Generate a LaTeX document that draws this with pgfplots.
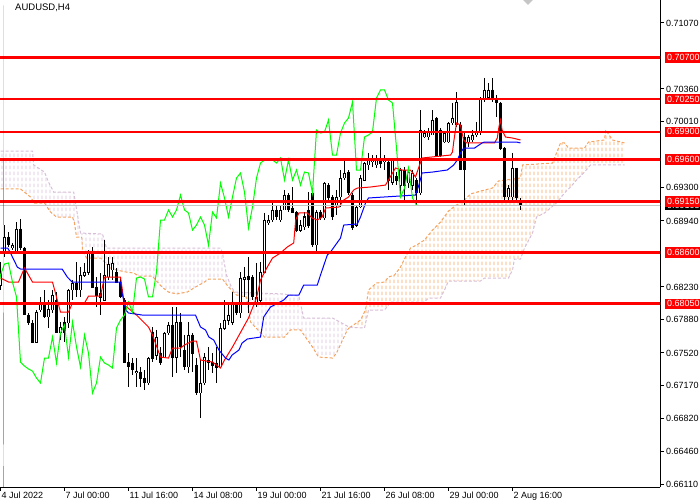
\documentclass[border=0pt]{standalone}
\usepackage{fontspec}
\setmainfont{Liberation Sans}
\usepackage{pgfplots}
\usepackage{pgfplotstable}
\pgfplotsset{compat=1.18}
\usepgfplotslibrary{fillbetween}
\usetikzlibrary{patterns}
\definecolor{sandy}{RGB}{244,164,96}
\definecolor{thist}{RGB}{216,191,216}
\definecolor{limeg}{RGB}{0,255,0}
\pgfdeclarepatternformonly{mtdash}{\pgfpoint{0bp}{0bp}}{\pgfpoint{4bp}{6bp}}{\pgfpoint{4bp}{6bp}}{%
 \pgfsetlinewidth{1bp}%
 \pgfpathmoveto{\pgfpoint{2.5bp}{1bp}}%
 \pgfpathlineto{\pgfpoint{2.5bp}{5bp}}%
 \pgfusepath{stroke}}
\setlength\fboxsep{2bp}
\newcommand\rbox[1]{\colorbox{red}{\textcolor{white}{#1}}}
\newcommand\bbox[1]{\colorbox{black}{\textcolor{white}{#1}}}
\pgfplotstableread{
i o h l c
0 0.68250 0.68498 0.68197 0.68380
1 0.68595 0.68896 0.68552 0.68767
2 0.68767 0.68820 0.68660 0.68681
3 0.68649 0.68703 0.68627 0.68681
4 0.68605 0.68928 0.68595 0.68853
5 0.68853 0.68961 0.68627 0.68649
6 0.68649 0.68660 0.67928 0.67928
7 0.67928 0.67950 0.67820 0.67842
8 0.67842 0.67874 0.67627 0.67637
9 0.67637 0.67982 0.67627 0.67960
10 0.67982 0.68122 0.67960 0.68057
11 0.68057 0.68197 0.67896 0.67907
12 0.67907 0.68089 0.67788 0.67992
13 0.67982 0.68197 0.67950 0.68143
14 0.68089 0.68175 0.67735 0.67735
15 0.67735 0.67852 0.67659 0.67799
16 0.67852 0.67907 0.67637 0.67735
17 0.67842 0.68207 0.67788 0.68197
18 0.68197 0.68304 0.68089 0.68272
19 0.68272 0.68498 0.68122 0.68197
20 0.68197 0.68445 0.68122 0.68358
21 0.68358 0.68488 0.68337 0.68390
22 0.68390 0.68627 0.68358 0.68595
23 0.68595 0.68660 0.68229 0.68229
24 0.68229 0.68337 0.68014 0.68143
25 0.68165 0.68380 0.67928 0.68111
26 0.68089 0.68735 0.68089 0.68358
27 0.68337 0.68552 0.68304 0.68477
28 0.68412 0.68552 0.68304 0.68488
29 0.68390 0.68434 0.68272 0.68282
30 0.68282 0.68337 0.68111 0.68122
31 0.68089 0.68111 0.67412 0.67422
32 0.67422 0.67519 0.67154 0.67379
33 0.67412 0.67465 0.67282 0.67347
34 0.67304 0.67465 0.67154 0.67325
35 0.67314 0.67369 0.67154 0.67250
36 0.67250 0.67336 0.67121 0.67197
37 0.67197 0.67476 0.67175 0.67465
38 0.67745 0.67799 0.67422 0.67465
39 0.67497 0.67767 0.67444 0.67692
40 0.67519 0.67584 0.67390 0.67412
41 0.67476 0.67745 0.67465 0.67735
42 0.67735 0.67852 0.67713 0.67820
43 0.67820 0.68014 0.67261 0.67476
44 0.67476 0.68014 0.67304 0.67852
45 0.67852 0.67950 0.67476 0.67584
46 0.67551 0.67713 0.67336 0.67369
47 0.67369 0.67852 0.67304 0.67713
48 0.67713 0.67735 0.67314 0.67519
49 0.67390 0.67465 0.67067 0.67089
50 0.67089 0.67444 0.66820 0.67197
51 0.67197 0.67519 0.67175 0.67476
52 0.67444 0.67584 0.67336 0.67412
53 0.67422 0.67519 0.67304 0.67390
54 0.67412 0.67584 0.67197 0.67358
55 0.67369 0.67842 0.67358 0.67788
56 0.67788 0.68089 0.67767 0.67874
57 0.67874 0.68035 0.67820 0.67928
58 0.67852 0.68175 0.67820 0.68067
59 0.68035 0.68067 0.67928 0.67960
60 0.67950 0.68390 0.67896 0.68326
61 0.68315 0.68445 0.68122 0.68337
62 0.68347 0.68552 0.67950 0.68315
63 0.68337 0.68358 0.68089 0.68122
64 0.68057 0.68488 0.68014 0.68122
65 0.68089 0.68498 0.68067 0.68390
66 0.68380 0.69026 0.68380 0.68950
67 0.68918 0.69004 0.68896 0.68950
68 0.68950 0.69133 0.68928 0.69058
69 0.69058 0.69111 0.68950 0.68983
70 0.68950 0.69111 0.68928 0.69058
71 0.69058 0.69273 0.69058 0.69219
72 0.69219 0.69241 0.69036 0.69058
73 0.69079 0.69305 0.69026 0.69026
74 0.69026 0.69047 0.68820 0.68842
75 0.68842 0.68950 0.68820 0.68896
76 0.68875 0.69036 0.68842 0.68983
77 0.69058 0.69251 0.68864 0.68896
78 0.69241 0.69251 0.68660 0.68681
79 0.68681 0.69058 0.68595 0.69036
80 0.69036 0.69058 0.68950 0.68972
81 0.68972 0.69358 0.68950 0.69348
82 0.69326 0.69348 0.69165 0.69187
83 0.69198 0.69219 0.68950 0.68983
84 0.69111 0.69273 0.69004 0.69198
85 0.69198 0.69488 0.69090 0.69402
86 0.69402 0.69596 0.69380 0.69456
87 0.69466 0.69488 0.69219 0.69251
88 0.69219 0.69241 0.68842 0.68864
89 0.68896 0.69111 0.68875 0.69090
90 0.69090 0.69434 0.69079 0.69402
91 0.69380 0.69574 0.69380 0.69563
92 0.69542 0.69671 0.69488 0.69596
93 0.69574 0.69649 0.69521 0.69596
94 0.69542 0.69649 0.69510 0.69596
95 0.69596 0.69843 0.69510 0.69563
96 0.69574 0.69649 0.69488 0.69617
97 0.69574 0.69617 0.69273 0.69380
98 0.69358 0.69617 0.69326 0.69596
99 0.69423 0.69466 0.69326 0.69380
100 0.69326 0.69510 0.69198 0.69488
101 0.69488 0.69521 0.69133 0.69326
102 0.69348 0.69488 0.69294 0.69466
103 0.69326 0.69488 0.69273 0.69456
104 0.69380 0.69402 0.69111 0.69241
105 0.69241 0.70133 0.69219 0.69918
106 0.69843 0.69918 0.69832 0.69886
107 0.69843 0.69940 0.69811 0.69897
108 0.69865 0.70133 0.69865 0.70026
109 0.70047 0.70058 0.69628 0.69649
110 0.69918 0.69940 0.69628 0.69649
111 0.69789 0.69897 0.69779 0.69886
112 0.69789 0.70004 0.69779 0.69994
113 0.69994 0.70209 0.69972 0.70047
114 0.69972 0.70327 0.69951 0.70220
115 0.69972 0.70004 0.69488 0.69488
116 0.69843 0.69897 0.69111 0.69488
117 0.69789 0.69865 0.69736 0.69843
118 0.69811 0.69918 0.69789 0.69865
119 0.69865 0.70004 0.69843 0.69897
120 0.69886 0.70273 0.69865 0.70263
121 0.70241 0.70478 0.70220 0.70349
122 0.70273 0.70424 0.70241 0.70349
123 0.70349 0.70478 0.70220 0.70241
124 0.70263 0.70295 0.70058 0.70209
125 0.70209 0.70220 0.69703 0.69724
126 0.69724 0.69736 0.69165 0.69198
127 0.69198 0.69326 0.69165 0.69294
128 0.69198 0.69671 0.69165 0.69510
129 0.69510 0.69510 0.69165 0.69187
130 0.69144 0.69187 0.69058 0.69109
}\candles
\begin{document}
\begin{tikzpicture}
\begin{axis}[
 set layers,
 scale only axis, width=660bp, height=487bp,
 xmin=-0.125, xmax=164.875, ymin=0.66078, ymax=0.71317,
 axis x line*=bottom, axis y line*=right,
 axis line style={-, black, line width=1bp},
 tick align=outside, major tick length=4bp,
 tick style={black, line width=1bp},
 xtick={0,16,32,48,64,80,96,112,128},
 xticklabels={4 Jul 2022,7 Jul 00:00,11 Jul 16:00,14 Jul 08:00,19 Jul 00:00,21 Jul 16:00,26 Jul 08:00,29 Jul 00:00,2 Aug 16:00},
 xticklabel style={anchor=north west, inner sep=0pt, xshift=1bp, yshift=-1bp},
 ytick={0.6611,0.6646,0.6682,0.6717,0.6752,0.6788,0.6823,0.6894,0.6930,0.7001,0.7036,0.7107},
 yticklabels={0.66110,0.66460,0.66820,0.67170,0.67520,0.67880,0.68230,0.68940,0.69300,0.70010,0.70360,0.71070},
 yticklabel style={anchor=west, inner sep=0pt, xshift=2bp},
 extra y ticks={0.69109,0.7070,0.7025,0.6990,0.6960,0.6915,0.6860,0.6805},
 extra y tick labels={\bbox{0.69105},\rbox{0.70700},\rbox{0.70250},\rbox{0.69900},\rbox{0.69600},\rbox{0.69150},\rbox{0.68600},\rbox{0.68050}},
 extra y tick style={tick style={draw=none}, yticklabel style={inner sep=0pt, xshift=-1bp}},
 tick label style={font=\fontsize{9bp}{10bp}\selectfont},
 scaled y ticks=false, scaled x ticks=false,
]
% Ichimoku cloud boundaries
\addplot[name path=AL, sandy, line width=1bp, dash pattern=on 3bp off 2bp] coordinates {
(0,0.69284) (5,0.69284) (7.5,0.69197) (8.5,0.69133) (11,0.69133) (12.5,0.69036) (14,0.68982) (18,0.68982) (18.5,0.68918) (19,0.68767) (20.3,0.68767) (20.5,0.68627) (21.5,0.68541) (25,0.68541) (26,0.68498) (27.5,0.68434) (29,0.68412) (31.5,0.68390) (33.3,0.68380) (34.6,0.68347) (38,0.68347) (38.75,0.68304) (40.4,0.68229) (42,0.68175) (44,0.68154) (46.7,0.68175) (48.75,0.68229) (51,0.68283) (52,0.68315) (55.5,0.68315) (57,0.68229) (59,0.68143) (61.5,0.68122) (62.5,0.67853) (66,0.67691) (71,0.67691) (72.5,0.67767) (75,0.67767) (78,0.67584) (79.5,0.67476) (83,0.67465) (84,0.67519) (86.7,0.67767) (87.3,0.67795)};
\addplot[name path=BL, thist, line width=1bp, dash pattern=on 3bp off 2bp] coordinates {
(0,0.69692) (8,0.69692) (8.3,0.69542) (11,0.69466) (12,0.69359) (13.3,0.69251) (18.3,0.69251) (20,0.68810) (25.5,0.68799) (26.5,0.68649) (55,0.68649) (55.5,0.68595) (56.5,0.68358) (57.5,0.68251) (58.5,0.68175) (70.8,0.68154) (74.6,0.68132) (75.8,0.67896) (83,0.67896) (87.3,0.67795)};
\addplot[name path=AR, sandy, line width=1bp, dash pattern=on 3bp off 2bp] coordinates {
(87.3,0.67795) (87.5,0.67799) (90,0.67874) (91.25,0.67982) (92,0.68197) (94,0.68272) (96,0.68283) (97,0.68337) (98.5,0.68358) (100,0.68444) (101.5,0.68573) (102.5,0.68649) (104,0.68681) (106,0.68735) (108,0.68842) (110,0.68928) (112,0.69047) (114,0.69111) (116,0.69165) (117.5,0.69230) (120,0.69262) (123,0.69294) (124.5,0.69370) (130,0.69402) (130.5,0.69542) (138,0.69563) (139,0.69671) (140,0.69779) (141,0.69779) (142,0.69724) (146,0.69724) (147,0.69789) (151,0.69811) (151.3,0.69918) (152.5,0.69843) (153,0.69811) (156,0.69779)};
\addplot[name path=BR, thist, line width=1bp, dash pattern=on 3bp off 2bp] coordinates {
(87.3,0.67795) (91,0.67788) (92,0.67982) (96,0.67982) (97,0.68036) (97.5,0.68068) (106,0.68068) (107,0.68111) (110,0.68111) (111,0.68197) (112,0.68294) (120,0.68294) (121,0.68326) (127,0.68326) (128,0.68412) (128.5,0.68530) (130,0.68530) (131,0.68649) (133,0.68810) (134,0.68982) (136,0.69025) (137.5,0.69079) (139,0.69133) (141,0.69241) (142.5,0.69305) (144,0.69380) (146,0.69466) (147.5,0.69542) (156,0.69542)};
\addplot[pattern=mtdash, pattern color=thist, draw=none] fill between[of=AL and BL];
\addplot[pattern=mtdash, pattern color=sandy, draw=none] fill between[of=AR and BR];
% candles: wicks
\addplot[draw=none, forget plot, error bars/.cd, y dir=minus, y explicit, error mark=none,
  error bar style={draw=black, solid, line width=1bp}]
  table[x=i, y=h, y error minus expr=\thisrow{h}-\thisrow{l}] {\candles};
% bodies
\addplot[draw=none, forget plot, error bars/.cd, y dir=minus, y explicit, error mark=none,
  error bar style={draw=black, solid, line width=3bp}]
  table[x=i, y expr={max(\thisrow{o},\thisrow{c})+0.00005}, y error minus expr={max(abs(\thisrow{o}-\thisrow{c}),0.00001)+0.0001}] {\candles};
% white interiors of rising candles
\addplot[draw=none, forget plot, restrict expr to domain={\thisrow{c}-\thisrow{o}}{0.0001:1},
  error bars/.cd, y dir=minus, y explicit, error mark=none,
  error bar style={draw=white, solid, line width=1bp}]
  table[x=i, y expr={\thisrow{c}-0.00006}, y error minus expr={\thisrow{c}-\thisrow{o}-0.00002}] {\candles};
% Tenkan-sen
\addplot[red, line width=1bp] coordinates {
(0,0.68326) (2,0.68283) (4.5,0.68283) (6,0.68434) (8,0.68283) (13,0.68283) (15,0.67960) (17,0.67960) (18,0.68057) (21,0.68057) (22,0.68132) (25,0.68132) (26,0.68337) (30,0.68337) (31,0.68035) (34,0.67928) (37,0.67799) (38,0.67713) (40,0.67476) (42,0.67465) (43,0.67573) (45,0.67573) (46,0.67605) (48,0.67648) (49,0.67648) (50,0.67444) (53,0.67422) (55,0.67358) (56,0.67444) (58,0.67584) (62,0.67896) (64,0.68111) (65,0.68304) (66.7,0.68444) (68,0.68541) (70,0.68595) (71.7,0.68660) (73.3,0.68703) (73.8,0.68950) (74.6,0.69026) (76.7,0.69026) (77.9,0.68972) (79.2,0.68950) (80.4,0.68982) (81.3,0.69079) (84.6,0.69090) (85.8,0.69165) (87,0.69197) (88.3,0.69273) (89.2,0.69294) (92.5,0.69305) (96.25,0.69326) (98.75,0.69510) (100.4,0.69488) (102.5,0.69488) (103.75,0.69413) (104.6,0.69521) (105.4,0.69617) (112.5,0.69649) (113,0.69682) (113.3,0.69789) (114,0.69994) (115,0.69972) (115.4,0.69886) (115.8,0.69811) (116.5,0.69779) (123.5,0.69779) (124.2,0.69832) (124.6,0.69951) (125,0.70026) (125.4,0.69918) (126.25,0.69843) (128,0.69832) (130,0.69811)};
% Kijun-sen
\addplot[blue, line width=1bp] coordinates {
(0,0.68649) (1.8,0.68649) (2.5,0.68595) (4.2,0.68444) (5,0.68423) (15.4,0.68423) (16.7,0.68337) (17.9,0.68283) (30,0.68283) (30.4,0.68165) (31.3,0.67982) (32,0.67950) (35.4,0.67928) (48.75,0.67928) (50,0.67799) (51.25,0.67767) (52.1,0.67691) (53.3,0.67659) (54.6,0.67551) (56.25,0.67465) (57.1,0.67444) (57.9,0.67498) (59.6,0.67551) (60.4,0.67627) (61.7,0.67670) (65,0.67691) (65.8,0.67907) (67.5,0.68014) (70.8,0.68089) (72,0.68143) (74.6,0.68143) (75.8,0.68251) (79.2,0.68251) (80,0.68358) (81.7,0.68573) (82.5,0.68606) (83.75,0.68681) (85,0.68756) (85.8,0.68896) (89.2,0.68907) (90,0.68982) (91.25,0.69133) (92,0.69187) (103.75,0.69219) (104.6,0.69326) (105.4,0.69456) (108,0.69466) (111.7,0.69488) (113.3,0.69542) (114.2,0.69596) (115,0.69671) (115.8,0.69724) (118.5,0.69724) (120.4,0.69779) (121,0.69789) (129,0.69789) (130,0.69779)};
% Chikou span (close shifted back 26 bars)
\addplot[limeg, line width=1bp, restrict x to domain=-1:200] table[x expr=\thisrow{i}-26, y=c] {\candles};
% current price line
\addplot[gray!45, line width=1bp] coordinates {(-1,0.69109) (166,0.69109)};
% levels
\foreach \lv in {0.7070,0.7025,0.6990,0.6960,0.6915,0.6860,0.6805}{
  \edef\temp{\noexpand\addplot[red, line width=2.4bp] coordinates {(-1,\lv) (166,\lv)};}\temp
}
\node[anchor=west, inner sep=0pt, font=\fontsize{9.5bp}{11bp}\selectfont] at ([xshift=15bp,yshift=-7.5bp]rel axis cs:0,1) {AUDUSD,H4};
\fill ([xshift=3bp,yshift=-5.5bp]rel axis cs:0,1) -- ++(6bp,0) -- ++(-3bp,-3.5bp) -- cycle;
\fill[gray!45] ([xshift=-5bp]rel axis cs:0.8,1) -- ([xshift=5bp]rel axis cs:0.8,1) -- ([yshift=-5bp]rel axis cs:0.8,1) -- cycle;
\end{axis}
\pgfresetboundingbox
\path ([yshift=-13bp]current axis.south west) rectangle ([xshift=40bp]current axis.north east);
\end{tikzpicture}
\end{document}
